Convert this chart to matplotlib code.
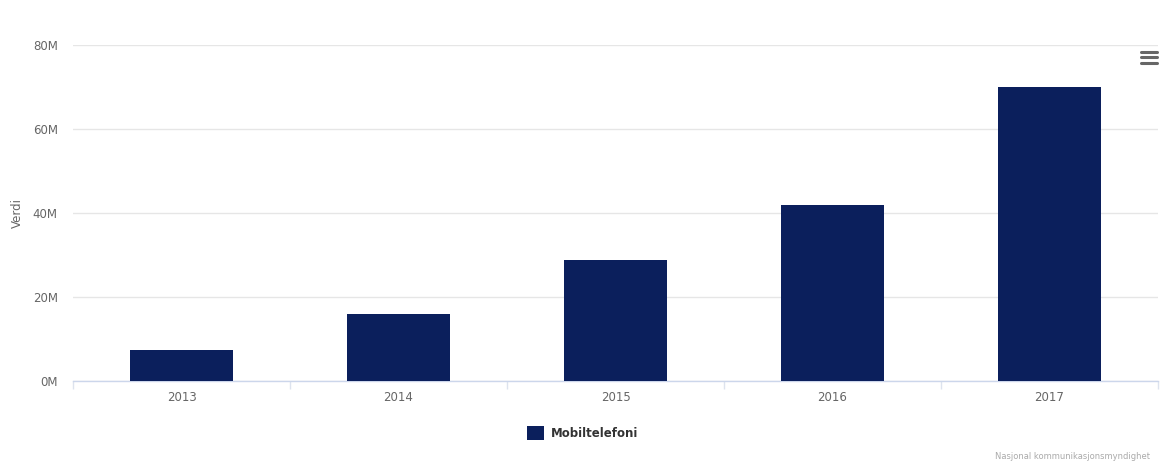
import matplotlib
matplotlib.use("Agg")
import matplotlib.pyplot as plt
from matplotlib.ticker import FuncFormatter
from matplotlib.patches import Rectangle
from matplotlib.lines import Line2D

years = ["2013", "2014", "2015", "2016", "2017"]
values_m = [7.4, 16.0, 28.8, 41.9, 70.0]
series_name = "Mobiltelefoni"
y_label = "Verdi"
source = "Nasjonal kommunikasjonsmyndighet"

W, H = 1161, 461
fig = plt.figure(figsize=(W/100, H/100), dpi=100)
fig.patch.set_facecolor("white")
l, r, b, t = 73, 1158, 381, 45
ax = fig.add_axes([l/W, (H-b)/H, (r-l)/W, (b-t)/H])

color = "#0b1f5c"
x = list(range(len(years)))
ax.bar(x, values_m, width=0.475, color=color, zorder=3)
ax.set_xlim(-0.5, len(years)-0.5)
ax.set_ylim(0, 80)
ax.set_yticks([0, 20, 40, 60, 80])
ax.yaxis.set_major_formatter(FuncFormatter(lambda v, p: f"{int(v)}M"))
ax.set_xticks(x)
ax.set_xticklabels(years)
ax.set_xticks([i - 0.5 for i in range(len(years)+1)], minor=True)

for s in ["top", "right", "left"]:
    ax.spines[s].set_visible(False)
ax.spines["bottom"].set_color("#ccd6eb")
ax.spines["bottom"].set_linewidth(1)
ax.grid(axis="y", color="#e6e6e6", linewidth=1, zorder=0)
ax.tick_params(axis="y", length=0, pad=11, labelsize=8.5, labelcolor="#666666")
ax.tick_params(axis="x", which="major", length=0, pad=7, labelsize=8.5, labelcolor="#666666")
ax.tick_params(axis="x", which="minor", length=6, color="#dde3ee", width=1)
ax.set_ylabel(y_label, fontsize=8.5, color="#666666", labelpad=6)

# legend
fig.patches.append(Rectangle((527/W, (H-440)/H), 17/W, 14/H, transform=fig.transFigure,
                             facecolor=color, edgecolor="none"))
fig.text(551/W, (H-433)/H, series_name, fontsize=8.5, fontweight="bold",
         color="#333333", va="center", ha="left")

# source
fig.text(1150/W, (H-456)/H, source, fontsize=6, color="#aaaaaa", ha="right", va="center")

# menu icon
for yy in [52, 57.5, 63]:
    fig.add_artist(Line2D([1141/W, 1157/W], [(H-yy)/H]*2, transform=fig.transFigure,
                          color="#666666", linewidth=2.2, solid_capstyle="round"))

fig.savefig("out.png", dpi=100)
